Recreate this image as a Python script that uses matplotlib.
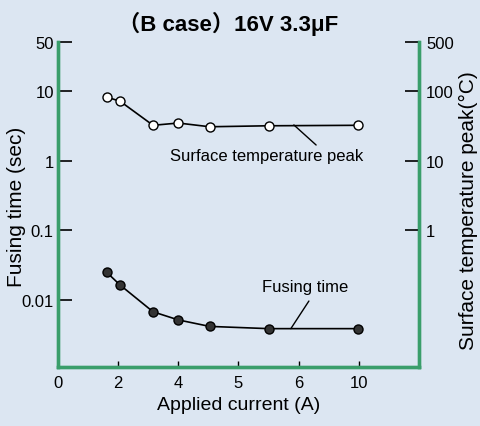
import matplotlib
matplotlib.use('Agg')
import matplotlib.pyplot as plt
import numpy as np

plt.rcParams['font.family'] = ['Liberation Sans', 'Noto Sans CJK JP', 'DejaVu Sans']

# x axis is an uneven scale: tick labels sit at equal steps
x_ticklabels = ['0', '2', '4', '5', '6', '10']
x_pos = [0.81, 1.03, 1.58, 2.0, 2.52, 3.5, 4.98]  # positions of measurement points on that scale

fusing_time = [0.025, 0.0165, 0.0068, 0.0052, 0.0042, 0.0039, 0.0039]  # sec
surface_temp = [81, 71, 32, 34.5, 30.5, 31.5, 32]  # degC

left_ticks = [50, 10, 1, 0.1, 0.01]
left_labels = ['50', '10', '1', '0.1', '0.01']
right_ticks = [500, 100, 10, 1]
right_labels = ['500', '100', '10', '1']

bg = '#dce6f2'
green = '#3a9e6b'

fig = plt.figure(figsize=(4.81, 4.27), dpi=100, facecolor=bg)
ax = fig.add_axes([58 / 481, 59 / 427, 361 / 481, 325 / 427])
ax.set_facecolor(bg)
ax.set_yscale('log')
ax.set_xlim(0, 6)
ax.set_ylim(0.0011, 50)

ax2 = ax.twinx()
ax2.set_yscale('log')
ax2.set_ylim(0.011, 500)

ax.plot(x_pos, fusing_time, '-o', color='black', lw=1.2, ms=6.5,
        mfc='#333333', mec='black', mew=1, zorder=3)
ax2.plot(x_pos, surface_temp, '-o', color='black', lw=1.2, ms=6.5,
         mfc='white', mec='black', mew=1, zorder=3)

for a in (ax, ax2):
    a.spines['top'].set_visible(False)
    for s in ('left', 'right', 'bottom'):
        a.spines[s].set_color(green)
        a.spines[s].set_linewidth(2.4)
    a.minorticks_off()

ax.set_xticks(range(len(x_ticklabels)))
ax.set_xticklabels(x_ticklabels)
ax.set_yticks(left_ticks)
ax.set_yticklabels(left_labels)
ax.tick_params(axis='x', direction='in', length=4, width=1, color='black',
               labelsize=12, pad=6)
ax.tick_params(axis='y', direction='in', length=10, width=1.2, color='black',
               labelsize=12, pad=3)
ax2.set_yticks(right_ticks)
ax2.set_yticklabels(right_labels)
ax2.tick_params(axis='y', direction='in', length=10, width=1.2, color='black',
                labelsize=12, pad=5)
ax2.minorticks_off()

ax.set_xlabel('Applied current (A)', fontsize=14, labelpad=4)
ax.set_ylabel('Fusing time (sec)', fontsize=15)
ax.yaxis.set_label_coords(-0.088, 0.495)
ax2.set_ylabel('Surface temperature peak(\u00b0C)', fontsize=15)
ax2.yaxis.set_label_coords(1.112, 0.485)
ax.set_title('\uff08B case\uff0916V 3.3\u03bcF', fontsize=16, fontweight='bold',
             pad=9, x=0.47)

# leader lines with labels
ax2.annotate('', xy=(3.92, 32.4), xytext=(4.29, 16.7),
             arrowprops=dict(arrowstyle='-', color='black', lw=1,
                             shrinkA=0, shrinkB=0))
ax2.text(3.47, 12.0, 'Surface temperature peak', fontsize=12,
         ha='center', va='center')
ax.annotate('', xy=(3.87, 0.0039), xytext=(4.17, 0.0097),
            arrowprops=dict(arrowstyle='-', color='black', lw=1,
                            shrinkA=0, shrinkB=0))
ax.text(4.10, 0.0155, 'Fusing time', fontsize=12, ha='center', va='center')

fig.savefig('out.png', dpi=100, facecolor=bg)
